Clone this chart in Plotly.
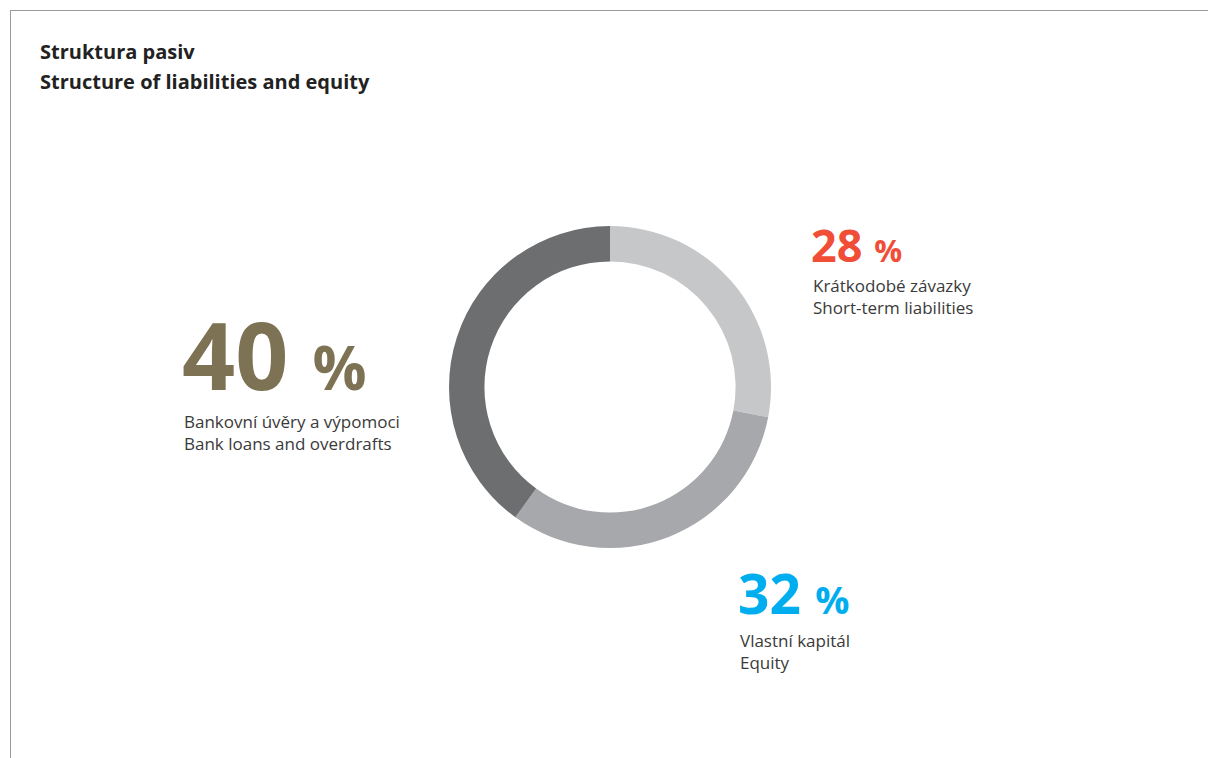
import plotly.graph_objects as go

W, H = 1208, 758

title_lines = ["Struktura pasiv", "Structure of liabilities and equity"]
categories_cz = ["Krátkodobé závazky", "Vlastní kapitál", "Bankovní úvěry a výpomoci"]
categories_en = ["Short-term liabilities", "Equity", "Bank loans and overdrafts"]
values = [28, 32, 40]
slice_colors = ["#c6c7c9", "#a7a8ab", "#6d6e70"]
label_colors = ["#f04e37", "#00aeef", "#7d7253"]

def px_x(x):
    return x / W

def px_y(y):
    return 1 - y / H

fig = go.Figure()
fig.add_trace(go.Pie(
    values=values,
    labels=categories_en,
    sort=False,
    direction="clockwise",
    rotation=0,
    hole=0.78,
    textinfo="none",
    hoverinfo="label+percent",
    marker=dict(colors=slice_colors, line=dict(width=0)),
    showlegend=False,
    domain=dict(x=[px_x(449), px_x(771)], y=[px_y(548), px_y(226)]),
))

FONT = "Open Sans"
TEXT_COL = "#3a3a3a"

annotations = []
# Title (two lines)
for line, ty in zip(title_lines, [52, 81]):
    annotations.append(dict(
        text=f"<b>{line}</b>",
        x=px_x(38), y=px_y(ty), xref="paper", yref="paper",
        xanchor="left", yanchor="middle", align="left", showarrow=False,
        font=dict(family=FONT, size=20, color="#222222"),
    ))

# label blocks: (index, x, number y-center, number size, pct size, box height, text y-center)
blocks = [
    (2, 180, 354, 93, 60, 86, 432),
    (0, 809, 244, 45, 31, 44, 297),
    (1, 736, 592, 55, 38, 52, 651),
]
for idx, x, ny, nsize, psize, bh, ty in blocks:
    annotations.append(dict(
        text=f"<b>{values[idx]}</b> <b><span style='font-size:{psize}px'>%</span></b>",
        x=px_x(x), y=px_y(ny), xref="paper", yref="paper",
        xanchor="left", yanchor="middle", align="left", valign="middle",
        height=bh, showarrow=False,
        font=dict(family=FONT, size=nsize, color=label_colors[idx]),
    ))
    annotations.append(dict(
        text=f"{categories_cz[idx]}<br>{categories_en[idx]}",
        x=px_x(x + 2), y=px_y(ty), xref="paper", yref="paper",
        xanchor="left", yanchor="middle", align="left", showarrow=False,
        font=dict(family=FONT, size=17, color=TEXT_COL),
    ))

shapes = [
    dict(type="line", xref="paper", yref="paper", x0=px_x(10), x1=1, y0=px_y(10.5), y1=px_y(10.5),
         line=dict(color="#9a9a9a", width=1)),
    dict(type="line", xref="paper", yref="paper", x0=px_x(10.5), x1=px_x(10.5), y0=px_y(10), y1=0,
         line=dict(color="#9a9a9a", width=1)),
]

fig.update_layout(
    width=W, height=H,
    margin=dict(l=0, r=0, t=0, b=0),
    paper_bgcolor="white", plot_bgcolor="white",
    annotations=annotations, shapes=shapes,
)

fig.write_html(
    "out.html",
    config={"displayModeBar": False},
    post_script="document.body.style.margin='0';document.body.style.overflow='hidden';",
)
